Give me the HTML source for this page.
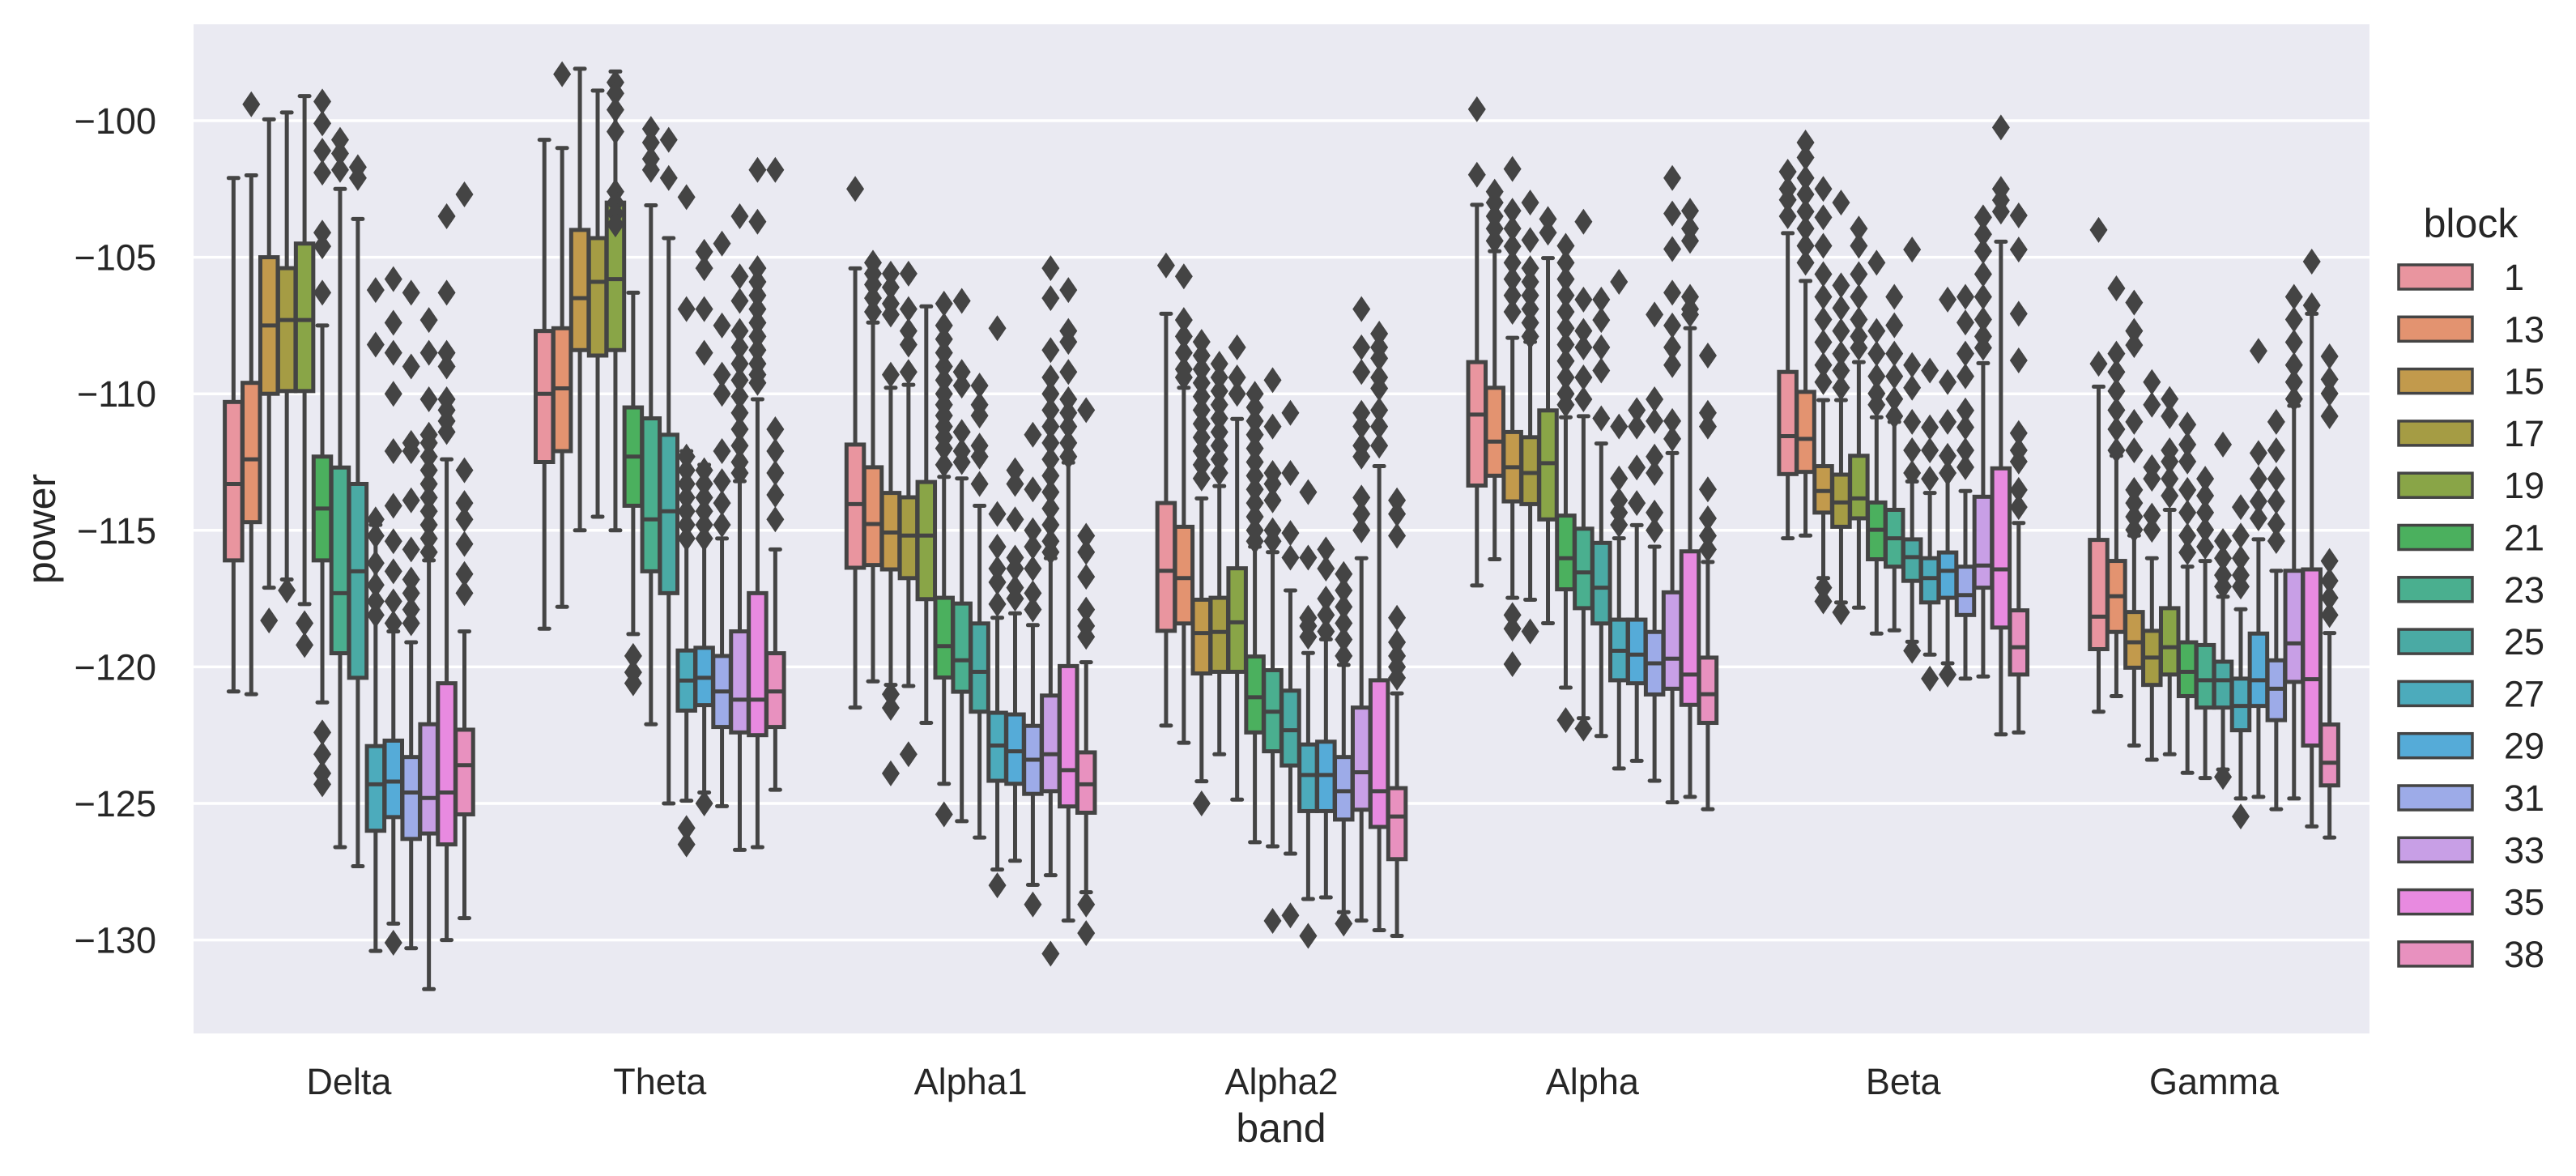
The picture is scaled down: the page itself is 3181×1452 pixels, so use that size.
<!DOCTYPE html>
<html><head><meta charset="utf-8"><style>
html,body{margin:0;padding:0;background:#fff}
svg{display:block;font-family:"Liberation Sans",Arial,sans-serif}
</style></head><body>
<svg id="chart" xmlns="http://www.w3.org/2000/svg" width="3181" height="1452" viewBox="0 0 3181 1452">
<rect x="239" y="30" width="2687" height="1246" fill="#eaeaf2"/>
<g id="grid"></g>
<g id="yticks"></g>
<g id="xticks"></g>
<g id="boxes"></g>
<text x="68" y="653" font-size="50" fill="#262626" text-anchor="middle" transform="rotate(-90 68 653)">power</text>
<text x="1582" y="1410" font-size="50" fill="#262626" text-anchor="middle">band</text>
<g id="legend">
<text x="3051" y="293" font-size="50" fill="#262626" text-anchor="middle">block</text>
</g>
</svg>
<script>
const bands = ["Delta","Theta","Alpha1","Alpha2","Alpha","Beta","Gamma"];
const blocks = ["1","13","15","17","19","21","23","25","27","29","31","33","35","38"];
const colors = ["#e9959f","#e39370","#c29a4c","#a59c44","#89a547","#4bb05e","#4aaf8f","#4aaaa4","#4cabbc","#55abd8","#9dabe8","#c89fe6","#e88ae0","#e891bf"];
const yTicks = [-100,-105,-110,-115,-120,-125,-130];

const q3Vals = [
[-110.3,-109.6,-105.0,-105.4,-104.5,-112.3,-112.7,-113.3,-122.9,-122.7,-123.3,-122.1,-120.6,-122.3],
[-107.7,-107.6,-104.0,-104.3,-103.0,-110.5,-110.9,-111.5,-119.4,-119.3,-119.6,-118.7,-117.3,-119.5],
[-111.86,-112.69,-113.63,-113.79,-113.23,-117.47,-117.68,-118.41,-121.68,-121.74,-122.16,-121.05,-119.97,-123.13],
[-114.0,-114.87,-117.54,-117.47,-116.39,-119.62,-120.12,-120.87,-122.84,-122.74,-123.3,-121.49,-120.49,-124.44],
[-108.84,-109.78,-111.4,-111.59,-110.61,-114.46,-114.94,-115.46,-118.27,-118.27,-118.72,-117.27,-115.77,-119.66],
[-109.2,-109.93,-112.65,-112.96,-112.27,-113.98,-114.25,-115.33,-116.02,-115.81,-116.33,-113.77,-112.73,-117.93],
[-115.35,-116.12,-117.99,-118.68,-117.85,-119.1,-119.2,-119.81,-120.43,-118.78,-119.76,-116.48,-116.43,-122.11]];
const medVals = [
[-113.3,-112.4,-107.5,-107.3,-107.3,-114.2,-117.3,-116.5,-124.3,-124.2,-124.6,-124.8,-124.6,-123.6],
[-110.0,-109.8,-106.5,-105.9,-105.8,-112.3,-114.6,-114.3,-120.5,-120.4,-120.9,-121.2,-121.2,-120.9],
[-114.04,-114.77,-115.08,-115.19,-115.19,-119.24,-119.76,-120.18,-122.88,-123.09,-123.4,-123.2,-123.78,-124.3],
[-116.48,-116.75,-118.76,-118.72,-118.37,-121.11,-121.64,-122.32,-123.96,-123.96,-124.55,-123.86,-124.55,-125.48],
[-110.76,-111.75,-112.69,-112.9,-112.54,-116.02,-116.54,-117.1,-119.41,-119.55,-119.87,-119.7,-120.28,-121.0],
[-111.55,-111.65,-113.56,-113.98,-113.83,-114.98,-115.29,-115.98,-116.75,-116.48,-117.37,-116.29,-116.43,-119.28],
[-118.16,-117.41,-119.1,-119.66,-119.28,-120.18,-120.49,-120.49,-121.43,-120.49,-120.8,-119.14,-120.45,-123.51]];
const q1Vals = [
[-116.1,-114.7,-110.0,-109.9,-109.9,-116.1,-119.5,-120.4,-126.0,-125.5,-126.3,-126.1,-126.5,-125.4],
[-112.5,-112.1,-108.4,-108.6,-108.4,-114.1,-116.5,-117.3,-121.6,-121.4,-122.2,-122.4,-122.5,-122.2],
[-116.37,-116.27,-116.43,-116.75,-117.52,-120.39,-120.91,-121.64,-124.17,-124.28,-124.65,-124.55,-125.11,-125.34],
[-118.68,-118.41,-120.24,-120.18,-120.18,-122.4,-123.09,-123.61,-125.28,-125.28,-125.59,-125.23,-125.86,-127.04],
[-113.36,-113.0,-113.94,-114.04,-114.6,-117.16,-117.85,-118.41,-120.49,-120.6,-121.01,-120.8,-121.39,-122.05],
[-112.94,-112.86,-114.35,-114.87,-114.56,-116.06,-116.33,-116.85,-117.64,-117.47,-118.1,-117.1,-118.56,-120.28],
[-119.35,-118.72,-120.03,-120.66,-120.28,-121.07,-121.49,-121.49,-122.32,-121.43,-121.95,-120.55,-122.88,-124.34]];
const whiskHigh = [
[-102.1,-102.0,-99.95,-99.7,-99.1,-107.5,-102.5,-103.6,-114.8,-118.7,-119.1,-116.1,-112.4,-118.7],
[-100.7,-101.0,-98.1,-98.9,-98.2,-106.3,-103.1,-104.3,-112.1,-112.6,-115.3,-113.2,-110.2,-115.7],
[-105.41,-107.39,-109.78,-109.67,-106.8,-113.04,-113.1,-114.1,-118.2,-118.04,-118.47,-116.02,-112.52,-119.83],
[-107.07,-109.78,-113.83,-113.38,-110.92,-115.6,-115.8,-117.2,-119.49,-118.99,-119.93,-116.02,-112.65,-120.97],
[-103.08,-104.78,-107.95,-108.1,-105.03,-110.86,-110.82,-111.82,-115.29,-114.81,-115.6,-112.17,-107.6,-116.16],
[-104.12,-105.87,-110.23,-110.23,-108.84,-110.86,-111.03,-113.21,-113.63,-112.9,-113.56,-108.88,-104.43,-114.73],
[-109.74,-112.27,-115.19,-116.02,-114.25,-116.33,-116.12,-117.43,-117.89,-115.33,-116.48,-110.44,-107.07,-118.76]];
const whiskLow = [
[-120.9,-121.0,-117.1,-116.8,-117.7,-121.3,-126.6,-127.3,-130.4,-129.4,-130.3,-131.8,-130.0,-129.2],
[-118.6,-117.8,-115.0,-114.5,-115.0,-118.8,-122.1,-125.0,-124.9,-124.6,-125.1,-126.7,-126.6,-124.5],
[-121.49,-120.53,-120.66,-120.7,-122.05,-124.28,-125.65,-126.25,-127.42,-127.1,-127.98,-127.63,-129.29,-128.25],
[-122.15,-122.78,-124.19,-123.2,-124.86,-126.42,-126.57,-126.84,-128.5,-128.44,-128.98,-129.29,-129.64,-129.85],
[-117.02,-116.06,-117.47,-117.54,-118.4,-120.76,-121.88,-122.53,-123.72,-123.44,-124.17,-124.96,-124.76,-125.21],
[-115.29,-115.19,-116.75,-117.64,-117.83,-118.78,-118.66,-119.08,-119.55,-119.87,-120.43,-120.35,-122.47,-122.4],
[-121.64,-121.07,-122.88,-123.4,-123.2,-123.88,-124.07,-123.76,-124.82,-124.76,-125.21,-124.82,-125.84,-126.25]];

const fliersDelta = [[],[-99.4],[-118.3],[-117.2],[-118.4,-119.2],
[-99.3,-100.1,-101.1,-101.9,-104.1,-104.6,-106.3,-122.4,-123.2,-123.9,-124.3],[-100.7,-101.2,-101.8],[-101.7,-102.1],
[-106.2,-108.2,-114.6,-115.2,-116.2,-117.0,-117.6,-118.1],
[-105.8,-107.4,-108.5,-110.0,-112.1,-114.1,-115.4,-116.5,-117.6,-118.4,-130.1],
[-106.3,-109.0,-111.8,-112.1,-113.9,-115.7,-116.8,-117.3,-117.9,-118.4],
[-107.3,-108.5,-110.2,-111.5,-111.8,-112.3,-112.8,-113.3,-113.8,-114.3,-114.8,-115.3,-115.8],
[-103.5,-106.3,-108.5,-109.0,-110.2,-110.6,-111.0,-111.4],
[-102.7,-112.8,-114.0,-114.6,-115.5,-116.6,-117.3]];
const fliersTheta = [[],[-98.3],[],[],[-98.6,-99.0,-99.6,-100.4,-102.6,-103.0,-103.4,-103.8],[-119.6,-120.2,-120.6],
[-100.3,-100.8,-101.4,-101.8],[-100.7,-102.1],
[-102.8,-106.9,-112.3,-112.8,-113.3,-113.8,-114.3,-114.8,-115.3,-125.9,-126.5],
[-104.8,-105.4,-106.9,-108.5,-112.8,-113.3,-113.8,-114.3,-114.8,-115.3,-125.0],
[-104.5,-107.5,-109.3,-110.0,-112.1,-113.2,-114.0,-114.8],
[-103.5,-105.7,-106.6,-107.7,-108.3,-108.9,-109.5,-110.1,-110.7,-111.3,-111.9,-112.5,-112.9],
[-101.8,-103.7,-105.4,-105.9,-106.4,-106.9,-107.4,-107.9,-108.4,-108.9,-109.3,-109.6],
[-101.8,-111.3,-112.1,-112.9,-113.7,-114.6]];
const fliersAlpha1 = [[-102.5],[-105.2,-105.6,-106.0,-106.5,-107.0],[-105.6,-106.1,-106.7,-107.1,-109.3,-121.0,-121.5,-123.9],
[-105.6,-106.9,-107.7,-108.2,-109.2,-123.2],[],
[-106.7,-107.5,-108.0,-108.5,-109.0,-109.5,-110.0,-110.4,-110.8,-111.2,-111.6,-112.0,-112.6,-125.4],
[-106.6,-109.2,-109.7,-111.4,-112.1,-112.5],[-109.7,-110.4,-110.8,-111.9,-112.3,-113.3],
[-107.6,-114.4,-115.6,-116.4,-116.9,-117.7,-128.0],[-112.8,-113.3,-114.6,-116.0,-116.4,-117.1,-117.5],
[-111.5,-113.5,-115.0,-115.6,-116.4,-117.3,-117.9,-128.7],
[-105.4,-106.5,-108.4,-109.4,-110.0,-110.6,-111.2,-111.8,-112.4,-113.0,-113.6,-114.2,-114.8,-115.4,-115.8,-130.5],
[-106.2,-107.7,-108.1,-109.2,-110.2,-110.7,-111.2,-111.8,-112.3],
[-110.6,-115.2,-115.8,-116.7,-117.9,-118.5,-118.9,-128.7,-129.75]];
const fliersAlpha2 = [[-105.3],[-105.7,-107.3,-107.9,-108.5,-109.1,-109.4],
[-108.1,-108.6,-109.1,-109.6,-110.1,-110.6,-111.1,-111.6,-112.1,-112.6,-113.1,-125.0],
[-108.9,-109.4,-109.9,-110.4,-110.9,-111.4,-111.9,-112.4,-112.9],[-108.3,-109.4,-110.0],
[-110.0,-110.5,-111.0,-111.5,-112.0,-112.5,-113.0,-113.5,-114.0,-114.5,-115.0,-115.4],
[-109.5,-111.2,-112.9,-113.3,-113.9,-115.0,-115.4,-129.3],[-110.7,-112.9,-115.1,-116.0,-129.1],
[-113.6,-116.0,-118.2,-118.5,-118.9,-129.85],[-115.7,-116.4,-117.5,-118.1,-118.7],
[-116.6,-117.2,-117.8,-118.4,-119.0,-119.6,-129.4],
[-106.9,-108.3,-109.2,-110.7,-111.2,-111.9,-112.3,-113.8,-114.4,-115.0],
[-107.8,-108.3,-108.7,-109.4,-109.8,-110.6,-111.2,-111.9],
[-113.9,-114.4,-115.2,-118.2,-119.1,-119.6,-120.0,-120.4]];
const fliersAlpha = [[-99.58,-101.98],[-102.6,-103.0,-103.5,-103.95,-104.4],
[-101.77,-103.3,-103.95,-104.6,-105.2,-105.8,-106.4,-107.0,-118.1,-118.6,-119.9],
[-103.0,-104.37,-105.4,-105.9,-106.4,-106.9,-107.4,-107.9,-118.7],[-103.6,-104.1],
[-104.58,-105.2,-105.8,-106.4,-107.0,-107.6,-108.2,-108.8,-109.4,-110.0,-110.4,-121.95],
[-103.7,-106.55,-107.7,-108.3,-109.4,-110.2,-122.26],[-106.55,-107.3,-108.3,-109.15,-110.9],
[-105.9,-111.2,-113.1,-113.9,-114.35,-114.8],[-110.6,-111.2,-112.7,-114.0],
[-107.1,-110.2,-111.0,-112.3,-112.9,-114.35,-115.0],
[-102.1,-103.4,-104.7,-106.3,-107.5,-108.3,-108.95,-111.0,-111.65],
[-103.3,-103.95,-104.4,-106.45,-106.9,-107.1],
[-108.6,-110.7,-111.2,-113.5,-114.56,-115.2,-115.7]];
const fliersBeta = [[-101.87,-102.5,-102.9,-103.5],[-100.8,-101.35,-102.1,-102.7,-103.33,-103.95,-104.58,-105.2],
[-102.5,-103.54,-104.58,-105.62,-106.45,-107.28,-108.11,-108.95,-109.57,-117.1,-117.6],
[-103.0,-106.03,-106.86,-107.7,-108.53,-109.15,-109.78,-118.0],
[-103.95,-104.58,-105.62,-106.45,-107.28,-107.9,-108.32],
[-105.2,-107.7,-108.53,-109.36,-109.99,-110.4],[-106.45,-107.49,-108.53,-109.36,-110.19,-110.82],
[-104.72,-108.95,-109.78,-111.03,-112.07,-112.9,-119.41],[-109.15,-111.23,-112.07,-113.11,-120.43],
[-106.55,-109.57,-111.03,-112.27,-112.9,-120.28],
[-106.45,-107.39,-108.53,-109.36,-110.61,-111.23,-112.07,-112.69],
[-103.54,-104.16,-104.78,-105.62,-106.45,-107.28,-107.9,-108.32],
[-100.25,-102.5,-102.91,-103.33],
[-103.47,-104.72,-107.07,-108.78,-111.44,-112.07,-112.48,-113.52,-114.15]];
const fliersGamma = [[-104.0,-108.9],[-106.14,-108.53,-109.2,-109.9,-110.6,-111.3,-112.07],
[-106.66,-107.7,-108.22,-111.03,-112.07,-113.52,-114.0,-114.5,-114.98],
[-109.57,-110.4,-112.69,-113.11,-114.46,-114.98],[-110.19,-110.82,-112.07,-112.48,-113.11,-113.73],
[-111.13,-111.86,-112.48,-113.52,-114.35,-115.19,-115.81],[-113.11,-113.73,-114.35,-114.98,-115.6],
[-111.86,-115.39,-116.02,-116.64,-117.06,-124.03],[-114.15,-115.19,-116.02,-116.64,-117.06,-125.48],
[-108.43,-112.17,-113.11,-113.94,-114.56],[-111.03,-112.07,-113.11,-113.94,-114.77,-115.39],
[-106.45,-107.28,-108.11,-108.95,-109.57,-110.19],[-105.16,-106.76],
[-108.63,-109.47,-109.99,-110.82,-116.12,-116.85,-117.47,-118.1]];
const fliers = [fliersDelta,fliersTheta,fliersAlpha1,fliersAlpha2,fliersAlpha,fliersBeta,fliersGamma];

const NS = "http://www.w3.org/2000/svg";
const X0 = 239, X1 = 2926;
const bandW = (X1 - X0) / bands.length;
const slot = 0.8 * bandW / blocks.length;
const EDGE = "#444444";
function yScale(v){ return 149 + (-100 - v) * 33.72; }
function bandCenter(b){ return X0 + bandW * (b + 0.5); }
function boxCenter(b,i){ return bandCenter(b) - 0.4 * bandW + slot * (i + 0.5); }
function mk(tag, attrs, parent){
  const e = document.createElementNS(NS, tag);
  for (const k in attrs) e.setAttribute(k, attrs[k]);
  parent.appendChild(e);
  return e;
}

const grid = document.getElementById('grid');
const yt = document.getElementById('yticks');
yTicks.forEach(t => {
  const y = yScale(t);
  const l = mk('line', {x1:X0, x2:X1, y1:y, y2:y, stroke:'#ffffff', 'stroke-width':3.5}, grid);
  
  
  const tx = mk('text', {x:193, y:y+16, 'font-size':45, fill:'#262626', 'text-anchor':'end'}, yt);
  tx.textContent = '\u2212' + Math.abs(t);
  
  
});
const xt = document.getElementById('xticks');
bands.forEach((b, bi) => {
  const tx = mk('text', {x:bandCenter(bi), y:1351, 'font-size':45, fill:'#262626', 'text-anchor':'middle'}, xt);
  tx.textContent = b;
  
  
});

const boxes = document.getElementById('boxes');
const bw = slot * 0.98;
bands.forEach((b, bi) => {
  blocks.forEach((blk, i) => {
    const cx = boxCenter(bi, i);
    const g = mk('g', {}, boxes);
    
    
    const yq3 = yScale(q3Vals[bi][i]), yq1 = yScale(q1Vals[bi][i]);
    const yhi = yScale(whiskHigh[bi][i]), ylo = yScale(whiskLow[bi][i]);
    const ym = yScale(medVals[bi][i]);
    const w1 = mk('line', {x1:cx, x2:cx, y1:yhi, y2:yq3, stroke:EDGE, 'stroke-width':5}, g);
    
    
    const w2 = mk('line', {x1:cx, x2:cx, y1:yq1, y2:ylo, stroke:EDGE, 'stroke-width':5}, g);
    
    
    const c1 = mk('line', {x1:cx-6, x2:cx+6, y1:yhi, y2:yhi, stroke:EDGE, 'stroke-width':5, 'stroke-linecap':'round'}, g);
    
    
    const c2 = mk('line', {x1:cx-6, x2:cx+6, y1:ylo, y2:ylo, stroke:EDGE, 'stroke-width':5, 'stroke-linecap':'round'}, g);
    
    
    const r = mk('rect', {x:cx-bw/2, y:yq3, width:bw, height:yq1-yq3, fill:colors[i], stroke:EDGE, 'stroke-width':5}, g);
    
    
    const m = mk('line', {x1:cx-bw/2, x2:cx+bw/2, y1:ym, y2:ym, stroke:EDGE, 'stroke-width':5}, g);
    
    
    fliers[bi][i].forEach(v => {
      const y = yScale(v);
      const d = mk('path', {d:`M${cx} ${y-16}L${cx+11} ${y}L${cx} ${y+16}L${cx-11} ${y}Z`, fill:EDGE}, g);
      
      
    });
  });
});

const leg = document.getElementById('legend');
blocks.forEach((blk, i) => {
  const yc = 342 + 64.3 * i;
  const g = mk('g', {}, leg);
  
  
  const r = mk('rect', {x:2962, y:yc-15, width:91, height:30, fill:colors[i], stroke:EDGE, 'stroke-width':3.5}, g);
  
  
  const t = mk('text', {x:3092, y:yc+16, 'font-size':45, fill:'#262626'}, g);
  t.textContent = blk;
  
  
});
</script>
</body></html>
